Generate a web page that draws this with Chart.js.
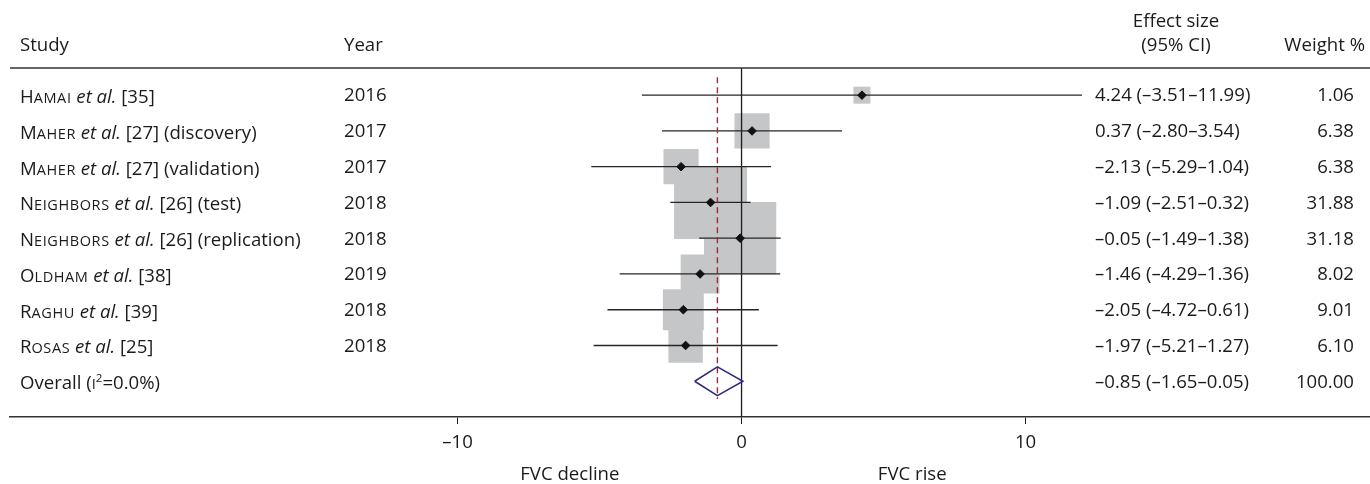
<!DOCTYPE html>
<html>
<head>
<meta charset="utf-8">
<script src="https://cdn.jsdelivr.net/npm/chart.js@4/dist/chart.umd.min.js"></script>
<style>
  html, body { margin: 0; padding: 0; background: #fff; }
  #wrap { width: 1370px; height: 484px; }
</style>
</head>
<body>
<div id="wrap"><canvas id="chart"></canvas></div>
<script>
// study rows
const authors = ["Hamai", "Maher", "Maher", "Neighbors", "Neighbors", "Oldham", "Raghu", "Rosas"];
const refs = ["[35]", "[27] (discovery)", "[27] (validation)", "[26] (test)", "[26] (replication)", "[38]", "[39]", "[25]"];
const years = [2016, 2017, 2017, 2018, 2018, 2019, 2018, 2018];
const effects = [4.24, 0.37, -2.13, -1.09, -0.05, -1.46, -2.05, -1.97];
const lowers = [-3.51, -2.80, -5.29, -2.51, -1.49, -4.29, -4.72, -5.21];
const uppers = [11.99, 3.54, 1.04, 0.32, 1.38, 1.36, 0.61, 1.27];
const weights = [1.06, 6.38, 6.38, 31.88, 31.18, 8.02, 9.01, 6.10];

// pooled estimate
const overallEffect = -0.85;
const overallLower = -1.65;
const overallUpper = 0.05;
const overallWeight = 100.00;
const overallI2 = "0.0%";

const xTicks = [-10, 0, 10];
const sideLabels = ["FVC decline", "FVC rise"];

const FONT = "'Open Sans'";
const FS = 18.6;
const SC = 0.78;
const INK = "#1c1a1b";
const nRows = authors.length;

const dash = s => s.replace(/-/g, "\u2013");
const fmt = v => dash(v.toFixed(2));
const esLabel = (e, l, u) => fmt(e) + " (" + fmt(l) + "\u2013" + fmt(u) + ")";

// square side in px from weight
const side = w => 12.13 * Math.sqrt(w) + 4.5;

const datasets = [];

// grey weight boxes
datasets.push({
  type: "scatter",
  data: effects.map((e, i) => ({ x: e, y: i })),
  pointStyle: "rect",
  pointRadius: ctx => side(weights[ctx.dataIndex]) / Math.SQRT2,
  backgroundColor: "#c5c6c8",
  borderWidth: 0,
  order: 5
});

// confidence intervals
effects.forEach((e, i) => {
  datasets.push({
    type: "line",
    data: [{ x: lowers[i], y: i }, { x: uppers[i], y: i }],
    borderColor: "#262626",
    borderWidth: 1.3,
    pointRadius: 0,
    order: 3
  });
});

// line of no effect
datasets.push({
  type: "line",
  data: [{ x: 0, y: -0.76 }, { x: 0, y: 9.0 }],
  borderColor: INK,
  borderWidth: 1.3,
  pointRadius: 0,
  order: 4
});

// pooled estimate dashed line
datasets.push({
  type: "line",
  data: [{ x: overallEffect, y: -0.5 }, { x: overallEffect, y: nRows + 0.5 }],
  borderColor: "#9c2b40",
  borderWidth: 1.4,
  borderDash: [6, 4],
  pointRadius: 0,
  order: 2
});

// pooled diamond
const dh = 0.4;
datasets.push({
  type: "line",
  data: [
    { x: overallLower, y: nRows },
    { x: overallEffect, y: nRows - dh },
    { x: overallUpper, y: nRows },
    { x: overallEffect, y: nRows + dh },
    { x: overallLower, y: nRows }
  ],
  borderColor: "#2b2a7e",
  borderWidth: 1.5,
  pointRadius: 0,
  order: 1
});

// point estimates
datasets.push({
  type: "scatter",
  data: effects.map((e, i) => ({ x: e, y: i })),
  pointStyle: "rectRot",
  pointRadius: 4.3,
  backgroundColor: "#111",
  borderColor: "#111",
  borderWidth: 1,
  order: 0
});

// draws text made of runs: n = normal, sc = small caps, i = italic, sup = superscript
function drawRich(ctx, runs, x, y) {
  ctx.textAlign = "left";
  ctx.textBaseline = "alphabetic";
  const base = y + FS * 0.37;
  runs.forEach(([t, s]) => {
    ctx.letterSpacing = "0px";
    if (s === "sc") {
      ctx.font = FS + "px " + FONT;
      ctx.fillText(t[0], x, base);
      x += ctx.measureText(t[0]).width;
      ctx.font = (FS * SC) + "px " + FONT;
      ctx.letterSpacing = "0.6px";
      const rest = t.slice(1).toUpperCase();
      ctx.fillText(rest, x, base);
      x += ctx.measureText(rest).width;
    } else if (s === "scall") {
      ctx.font = (FS * SC) + "px " + FONT;
      ctx.fillText(t.toUpperCase(), x, base);
      x += ctx.measureText(t.toUpperCase()).width;
    } else if (s === "sup") {
      ctx.font = (FS * 0.62) + "px " + FONT;
      ctx.fillText(t, x, base - FS * 0.38);
      x += ctx.measureText(t).width;
    } else {
      ctx.font = (s === "i" ? "italic " : "") + FS + "px " + FONT;
      ctx.fillText(t, x, base);
      x += ctx.measureText(t).width;
    }
  });
  ctx.letterSpacing = "0px";
}

const textPlugin = {
  id: "forestText",
  afterDraw(chart) {
    const { ctx, chartArea, scales } = chart;
    const ys = scales.y, xs = scales.x;
    ctx.save();
    ctx.fillStyle = INK;

    // top rule
    ctx.strokeStyle = "#333";
    ctx.lineWidth = 1.5;
    ctx.beginPath();
    ctx.moveTo(chartArea.left, chartArea.top);
    ctx.lineTo(chartArea.right, chartArea.top);
    ctx.stroke();

    // headers
    ctx.font = FS + "px " + FONT;
    ctx.textBaseline = "middle";
    ctx.textAlign = "left";
    ctx.fillText("Study", 20, 46);
    ctx.fillText("Year", 344, 46);
    ctx.textAlign = "center";
    ctx.fillText("Effect size", 1176, 22);
    ctx.fillText("(95% CI)", 1176, 46);
    ctx.textAlign = "right";
    ctx.fillText("Weight %", 1365, 46);

    for (let i = 0; i < nRows; i++) {
      const y = ys.getPixelForValue(i) + 1;
      drawRich(ctx, [[authors[i], "sc"], [" ", "n"], ["et al.", "i"], [" " + refs[i], "n"]], 20, y);
      ctx.font = FS + "px " + FONT;
      ctx.textBaseline = "middle";
      ctx.textAlign = "left";
      ctx.fillText(String(years[i]), 344, y);
      ctx.fillText(esLabel(effects[i], lowers[i], uppers[i]), 1095, y);
      ctx.textAlign = "right";
      ctx.fillText(weights[i].toFixed(2), 1354, y);
    }

    const yo = ys.getPixelForValue(nRows) + 1;
    drawRich(ctx, [["Overall (", "n"], ["I", "scall"], ["2", "sup"], ["=" + overallI2 + ")", "n"]], 20, yo);
    ctx.font = FS + "px " + FONT;
    ctx.textBaseline = "middle";
    ctx.textAlign = "left";
    ctx.fillText(esLabel(overallEffect, overallLower, overallUpper), 1095, yo);
    ctx.textAlign = "right";
    ctx.fillText(overallWeight.toFixed(2), 1354, yo);

    // direction labels
    ctx.textAlign = "right";
    ctx.fillText(sideLabels[0], xs.getPixelForValue(-4.3), 475);
    ctx.textAlign = "left";
    ctx.fillText(sideLabels[1], xs.getPixelForValue(4.8), 475);
    ctx.restore();
  }
};

new Chart(document.getElementById("chart"), {
  type: "scatter",
  data: { datasets },
  options: {
    responsive: true,
    maintainAspectRatio: false,
    animation: false,
    events: [],
    layout: { autoPadding: false, padding: { top: 68, left: 10, right: 0, bottom: 0 } },
    plugins: { legend: { display: false }, tooltip: { enabled: false } },
    scales: {
      x: {
        type: "linear",
        min: -25.76,
        max: 22.13,
        afterBuildTicks: s => { s.ticks = xTicks.map(v => ({ value: v })); },
        afterFit: s => { s.height = 67; },
        ticks: {
          color: INK,
          font: { family: "Open Sans", size: FS },
          padding: 8,
          maxRotation: 0,
          callback: v => dash(String(v))
        },
        grid: { drawOnChartArea: false, drawTicks: true, tickLength: 7, color: INK, lineWidth: 1 },
        border: { display: true, color: "#333", width: 1.5 }
      },
      y: {
        type: "linear",
        reverse: true,
        min: -0.76,
        max: 9.0,
        display: false
      }
    }
  },
  plugins: [textPlugin]
});
</script>
</body>
</html>
